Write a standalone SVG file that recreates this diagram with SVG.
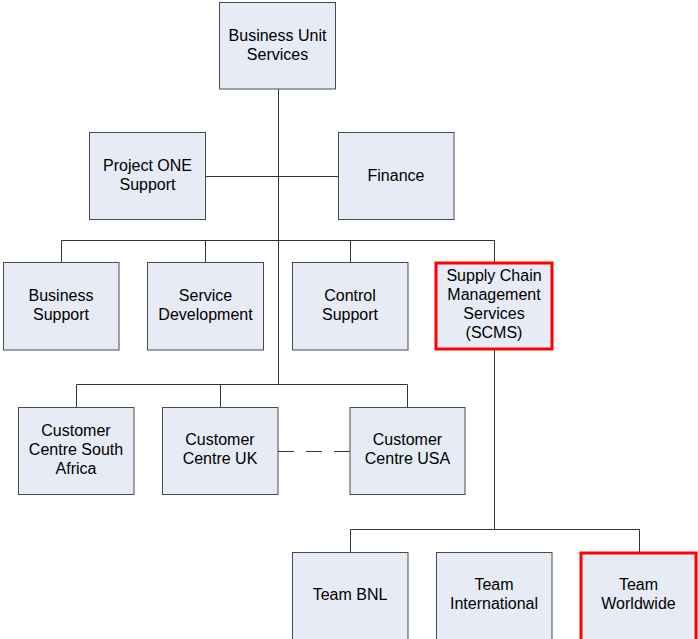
<svg xmlns="http://www.w3.org/2000/svg" width="698" height="639" viewBox="0 0 698 639">
<style>
.box{fill:#E6EBF5;stroke:#4A4A4A;stroke-width:1}
.hl{fill:#E6EBF5;stroke:#FF0000;stroke-width:3}
.t{font-family:"Liberation Sans",Arial,sans-serif;font-size:16px;fill:#000;text-anchor:middle}
.c{fill:none;stroke:#333;stroke-width:1}
.d{fill:none;stroke:#333;stroke-width:1;stroke-dasharray:16 12}
</style>
<rect width="698" height="639" fill="#fff"/>
<g id="connectors">
<path class="c" d="M278.5,89 V384.5"/>
<path class="c" d="M205,176.5 H339"/>
<path class="c" d="M61.5,263 V240.5 H494.5 V263"/>
<path class="c" d="M205.5,240.5 V263"/>
<path class="c" d="M350.5,240.5 V263"/>
<path class="c" d="M76.5,407 V384.5 H407.5 V407"/>
<path class="c" d="M220.5,384.5 V407"/>
<path class="d" d="M278,451.5 H350"/>
<path class="c" d="M494.5,349 V529.5"/>
<path class="c" d="M350.5,552 V529.5 H639.5 V552"/>
</g>
<g id="bus">
<rect class="box" x="219.5" y="2.5" width="116" height="86.5"/>
<text class="t" x="277.5" y="40.5">Business Unit</text>
<text class="t" x="277.5" y="59.5">Services</text>
</g>
<g id="pone">
<rect class="box" x="89.5" y="132.5" width="116" height="87"/>
<text class="t" x="147.5" y="170.5">Project ONE</text>
<text class="t" x="147.5" y="189.5">Support</text>
</g>
<g id="fin">
<rect class="box" x="338.5" y="132.5" width="115.5" height="87"/>
<text class="t" x="396" y="180.5">Finance</text>
</g>
<g id="bsup">
<rect class="box" x="3.5" y="262.5" width="115.5" height="87.5"/>
<text class="t" x="61" y="300.5">Business</text>
<text class="t" x="61" y="319.5">Support</text>
</g>
<g id="sdev">
<rect class="box" x="147.5" y="262.5" width="116" height="87.5"/>
<text class="t" x="205.5" y="300.5">Service</text>
<text class="t" x="205.5" y="319.5">Development</text>
</g>
<g id="csup">
<rect class="box" x="292.5" y="262.5" width="115.5" height="87.5"/>
<text class="t" x="350" y="300.5">Control</text>
<text class="t" x="350" y="319.5">Support</text>
</g>
<g id="scms">
<rect class="hl" x="436" y="263" width="116" height="86"/>
<text class="t" x="494" y="280.5">Supply Chain</text>
<text class="t" x="494" y="299.5">Management</text>
<text class="t" x="494" y="319">Services</text>
<text class="t" x="494" y="338">(SCMS)</text>
</g>
<g id="ccsa">
<rect class="box" x="18.5" y="407.5" width="115.5" height="87"/>
<text class="t" x="76" y="435.5">Customer</text>
<text class="t" x="76" y="455">Centre South</text>
<text class="t" x="76" y="474">Africa</text>
</g>
<g id="ccuk">
<rect class="box" x="162.5" y="407.5" width="115.5" height="87"/>
<text class="t" x="220" y="445">Customer</text>
<text class="t" x="220" y="464">Centre UK</text>
</g>
<g id="ccusa">
<rect class="box" x="350" y="407.5" width="115" height="87"/>
<text class="t" x="407.5" y="445">Customer</text>
<text class="t" x="407.5" y="464">Centre USA</text>
</g>
<g id="bnl">
<rect class="box" x="292.5" y="552.5" width="115.5" height="88"/>
<text class="t" x="350" y="600">Team BNL</text>
</g>
<g id="intl">
<rect class="box" x="436.5" y="552.5" width="115.5" height="88"/>
<text class="t" x="494" y="589.5">Team</text>
<text class="t" x="494" y="609">International</text>
</g>
<g id="ww">
<rect class="hl" x="581" y="553" width="115" height="88"/>
<text class="t" x="638.5" y="589.5">Team</text>
<text class="t" x="638.5" y="609">Worldwide</text>
</g>
</svg>
